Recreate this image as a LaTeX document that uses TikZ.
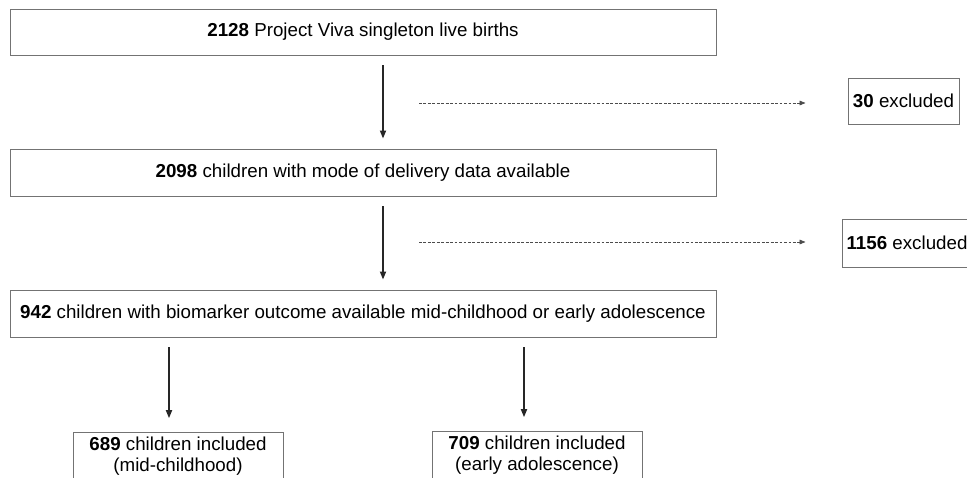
\documentclass[tikz,border=0pt]{standalone}
\usepackage{fontspec}
\setmainfont{Liberation Sans}
\usetikzlibrary{arrows.meta}

\begin{document}
\begin{tikzpicture}

        \useasboundingbox (0,0) rectangle (29.01,-14.31);

        \begin{scope}[every node/.style={draw=black!55,line width=0.8pt,inner sep=0pt,align=center,font=\fontsize{16}{17.5}\selectfont}]
          \node[minimum width=21.18cm,minimum height=1.38cm] (births)    at (10.89,-0.96)   {\textbf{2128} Project Viva singleton live births};
          \node[minimum width=21.18cm,minimum height=1.41cm] (delivery)  at (10.89,-5.175)  {\textbf{2098} children with mode of delivery data available};
          \node[minimum width=21.18cm,minimum height=1.41cm] (biomarker) at (10.89,-9.405)  {\textbf{942} children with biomarker outcome available mid-childhood or early adolescence};
          \node[minimum width=3.33cm,minimum height=1.38cm]  (excl30)    at (27.105,-3.03)  {\textbf{30} excluded};
          \node[minimum width=3.9cm,minimum height=1.44cm]   (excl1156)  at (27.21,-7.29)   {\textbf{1156} excluded};
          \node[minimum width=6.3cm,minimum height=1.44cm]   (midchild)  at (5.34,-13.68)   {\textbf{689} children included\\(mid-childhood)};
          \node[minimum width=6.3cm,minimum height=1.44cm]   (earlyado)  at (16.11,-13.65)  {\textbf{709} children included\\(early adolescence)};
        \end{scope}

        \coordinate (main)  at (11.49,0);
        \coordinate (left)  at (5.07,0);
        \coordinate (right) at (15.72,0);
        \coordinate (gap1)  at (12.57,-3.09);
        \coordinate (gap2)  at (12.57,-7.26);

        \begin{scope}[every edge/.style={draw,black!85,line width=1.4pt,-{Triangle[length=0.24cm,width=0.18cm]},shorten <=0.3cm,shorten >=0.3cm}]
          \path (births.south -| main)     edge (delivery.north -| main);
          \path (delivery.south -| main)   edge (biomarker.north -| main);
          \path (biomarker.south -| left)  edge[shorten >=0.4cm] (midchild.north -| left);
          \path (biomarker.south -| right) edge[shorten >=0.4cm] (earlyado.north -| right);
        \end{scope}

        \begin{scope}[every edge/.style={draw,black!70,line width=0.7pt,dash pattern=on 2.4pt off 1.4pt,-{Triangle[length=0.18cm,width=0.14cm]}}]
          \path (gap1) edge[shorten >=1.26cm] (gap1 -| excl30.west);
          \path (gap2) edge[shorten >=1.08cm] (gap2 -| excl1156.west);
        \end{scope}

      \end{tikzpicture}
\end{document}
